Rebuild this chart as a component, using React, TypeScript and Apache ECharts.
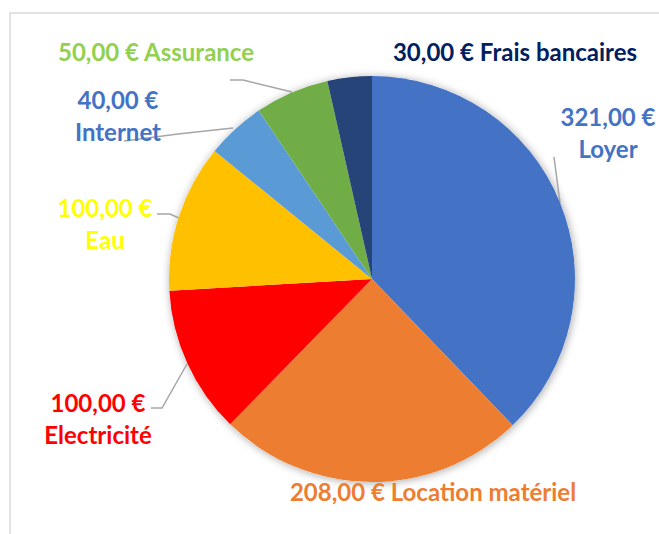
import React, { useEffect, useRef } from "react";
import * as echarts from "echarts";

const categories = ["Loyer", "Location matériel", "Electricité", "Eau", "Internet", "Assurance", "Frais bancaires"];
const values = [321, 208, 100, 100, 40, 50, 30];
const sliceColors = ["#4472C4", "#ED7D31", "#FF0000", "#FFC000", "#5B9BD5", "#70AD47", "#264478"];
const labelColors = ["#4472C4", "#ED7D31", "#FF0000", "#FFFF00", "#4472C4", "#92D050", "#002060"];
const twoLine = [true, false, true, true, true, false, false];

// label anchor positions & leader line points (layout, per slice index)
const labelPos: [number, number][] = [
  [608, 132],
  [433, 491],
  [98, 418],
  [105, 223],
  [118, 115],
  [156, 51],
  [515, 51],
];
const leaderLines: ([number, number][] | null)[] = [
  [[560, 203], [557, 180], [554, 157]],
  null,
  [[187, 364], [162, 408], [151, 408]],
  [[181, 219], [170, 214], [157, 214]],
  [[233, 128], [178, 134], [124, 141]],
  [[292, 92], [243, 80], [230, 80]],
  null,
];

const fmt = (v: number) => v.toFixed(2).replace(".", ",") + " €";

export default function App() {
  const ref = useRef<HTMLDivElement>(null);
  useEffect(() => {
    if (!ref.current) return;
    const chart = echarts.init(ref.current, undefined, { renderer: "svg" });
    const total = values.reduce((a, b) => a + b, 0);
    chart.setOption({
      animation: false,
      backgroundColor: "#ffffff",
      textStyle: { fontFamily: "Lato" },
      graphic: [
        {
          type: "rect",
          shape: { x: 10, y: 13, width: 700, height: 600 },
          style: { fill: "none", stroke: "#D9D9D9", lineWidth: 1.5 },
          silent: true,
          z: 0,
        },
      ],
      series: [
        {
          type: "pie",
          silent: true,
          center: [372, 279],
          radius: 203,
          z: 1,
          label: { show: false },
          labelLine: { show: false },
          itemStyle: {
            color: "#ffffff",
            shadowBlur: 8,
            shadowColor: "rgba(0,0,0,0.35)",
            shadowOffsetX: 1,
            shadowOffsetY: 1,
          },
          data: [{ value: total, name: "" }],
        },
        {
          type: "pie",
          center: [372, 279],
          radius: 203,
          startAngle: 90,
          clockwise: true,
          z: 2,
          itemStyle: { borderWidth: 0 },
          label: {
            show: true,
            fontFamily: "Lato",
            fontWeight: "bold",
            fontSize: 24,
            lineHeight: 32,
            align: "center",
            overflow: "none",
            width: 400,
          },
          labelLine: {
            show: true,
            lineStyle: { color: "#A6A6A6", width: 1.5 },
          },
          labelLayout: (p: any) => {
            const i = p.dataIndex;
            const res: any = {
              x: labelPos[i][0],
              y: labelPos[i][1],
              align: "center",
              verticalAlign: "middle",
            };
            if (leaderLines[i]) res.labelLinePoints = leaderLines[i];
            return res;
          },
          data: categories.map((name, i) => ({
            name,
            value: values[i],
            itemStyle: { color: sliceColors[i] },
            label: {
              color: labelColors[i],
              formatter: () => fmt(values[i]) + (twoLine[i] ? "\n" : " ") + name,
            },
            labelLine: { show: leaderLines[i] !== null },
          })),
        },
      ],
    });
    return () => chart.dispose();
  }, []);
  return (
    <div
      ref={ref}
      style={{ position: "fixed", left: 0, top: 0, width: 659, height: 534 }}
    />
  );
}
